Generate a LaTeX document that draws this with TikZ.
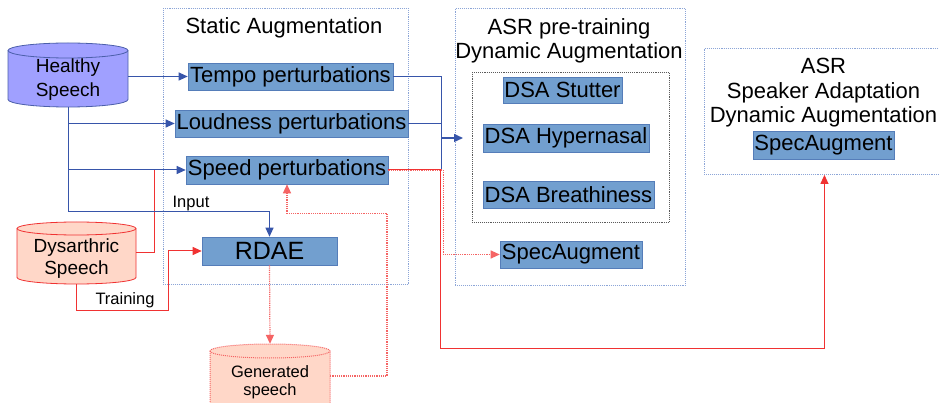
\documentclass[tikz,border=0pt]{standalone}
\usepackage{fontspec}
\setmainfont{Liberation Sans}
\usetikzlibrary{arrows.meta,calc}
\definecolor{boxfill}{RGB}{114,159,207}
\definecolor{boxline}{RGB}{85,125,185}
\definecolor{lineblue}{RGB}{55,85,170}
\definecolor{grpblue}{RGB}{140,165,215}
\definecolor{hfill}{RGB}{160,160,255}
\definecolor{hline}{RGB}{75,95,170}
\definecolor{redl}{RGB}{240,50,50}
\definecolor{dfill}{RGB}{255,215,200}
\definecolor{pinkdot}{RGB}{245,100,100}
\definecolor{innergray}{RGB}{90,90,90}
\begin{document}
\begin{tikzpicture}[x=1pt,y=-1pt,
  blk/.style={fill=boxfill,draw=boxline,line width=0.6pt,inner sep=0pt,font=\fontsize{22}{24}\selectfont},
  grp/.style={draw=grpblue,densely dotted,line width=0.9pt,inner sep=0pt,anchor=north west},
  ttl/.style={font=\fontsize{22}{24.5}\selectfont,align=center,inner sep=0pt},
  cyltxt/.style={font=\fontsize{19}{22}\selectfont,align=center,inner sep=0pt},
  frame/.style={inner sep=0pt,minimum width=#1},
  barr/.style={draw=lineblue,line width=1pt},
  tip/.style={-{Triangle[length=9pt,width=8pt]}},
  rline/.style={draw=redl,line width=1pt},
  rdot/.style={draw=pinkdot,densely dotted,line width=1.2pt},
  lbl/.style={font=\fontsize{16.5}{17.5}\selectfont,inner sep=0pt,align=center},
]
\fill[white] (0,0) rectangle (939,403);
\useasboundingbox (0,0) rectangle (939,403);

% group frames
\node[grp,minimum width=245pt,minimum height=276pt] (static) at (163,8) {};
\node[grp,minimum width=230pt,minimum height=277pt] (asrpre) at (455,8) {};
\node[grp,draw=innergray,minimum width=197pt,minimum height=150pt] (inner) at (472,72) {};
\node[grp,minimum width=240pt,minimum height=126pt] (asrspk) at (704,48) {};

% titles
\node[ttl] (stattl) at (284,28) {Static Augmentation};
\node[ttl] (pretl) at (569,41) {ASR pre-training\\Dynamic Augmentation};
\node[ttl] (spktl) at (823.5,93) {ASR\\Speaker Adaptation\\Dynamic Augmentation};

% blue boxes
\node[blk,minimum width=205pt,minimum height=27pt] (tempo) at (290.5,76.5) {Tempo perturbations};
\node[blk,minimum width=233pt,minimum height=27pt] (loud) at (291.5,123.5) {Loudness perturbations};
\node[blk,minimum width=202pt,minimum height=28pt] (speed) at (287,170) {Speed perturbations};
\node[blk,minimum width=135pt,minimum height=28pt,font=\fontsize{25}{27}\selectfont] (rdae) at (269.5,251) {RDAE};
\node[blk,minimum width=119pt,minimum height=26pt] (stutter) at (562.5,90) {DSA Stutter};
\node[blk,minimum width=166pt,minimum height=28pt] (hyper) at (566,138) {DSA Hypernasal};
\node[blk,minimum width=171pt,minimum height=27pt] (breath) at (568.5,194.5) {DSA Breathiness};
\node[blk,minimum width=142pt,minimum height=27pt] (spec1) at (571,254.5) {SpecAugment};
\node[blk,minimum width=141pt,minimum height=28pt] (spec2) at (823.5,145) {SpecAugment};

% Healthy Speech cylinder
\filldraw[fill=hfill,draw=hline,line width=0.8pt] (8,50.5) -- (8,99.5)
  arc[start angle=180,end angle=360,x radius=60pt,y radius=7.5pt] -- (128,50.5)
  arc[start angle=0,end angle=180,x radius=60pt,y radius=7.5pt] -- cycle;
\draw[draw=hline,line width=0.8pt] (8,50.5) arc[start angle=180,end angle=360,x radius=60pt,y radius=7.5pt];
\node[frame=120pt,minimum height=64pt] (healthy) at (68,75) {};
\node[cyltxt,font=\fontsize{19}{24}\selectfont] (healthytxt) at (68,80) {Healthy\\Speech};

% Dysarthric Speech cylinder
\filldraw[fill=dfill,draw=redl,line width=0.8pt] (17,228.5) -- (17,277.5)
  arc[start angle=180,end angle=360,x radius=59.5pt,y radius=6.5pt] -- (136,228.5)
  arc[start angle=0,end angle=180,x radius=59.5pt,y radius=6.5pt] -- cycle;
\draw[draw=redl,line width=0.8pt] (17,228.5) arc[start angle=180,end angle=360,x radius=59.5pt,y radius=6.5pt];
\node[frame=119pt,minimum height=62pt] (dys) at (76.5,253) {};
\node[cyltxt] (dystxt) at (76.5,258.5) {Dysarthric\\Speech};

% Generated speech cylinder
\filldraw[fill=dfill,draw=pinkdot,densely dotted,line width=1pt] (210,351) -- (210,420)
  arc[start angle=180,end angle=360,x radius=60pt,y radius=7pt] -- (330,351)
  arc[start angle=0,end angle=180,x radius=60pt,y radius=7pt] -- cycle;
\draw[draw=pinkdot,densely dotted,line width=1pt] (210,351) arc[start angle=180,end angle=360,x radius=60pt,y radius=7pt];
\node[frame=120pt,minimum height=74pt] (gen) at (270,381) {};
\node[lbl] (gentxt) at (270,382) {Generated\\speech};

% labels
\node[lbl] (inputlbl) at (191,204) {Input};
\node[lbl] (trainlbl) at (125,300) {Training};

% red: dysarthric to speed line
\draw[rline] (dys.east) -| ($(speed.west)+(-31,0)$);
% training
\draw[rline,tip] (dys.south) -- ++(0,26) -| ($(rdae.west)+(-33,0)$) -- (rdae.west);

% blue connectors from healthy speech
\draw[barr,tip] (healthy.east |- tempo.west) -- (tempo.west);
\draw[barr,tip] (healthy.south |- loud.west) -- (loud.west);
\draw[barr,tip] (healthy.south |- speed.west) -- (speed.west);
\draw[barr,tip] (healthy.south) |- ($(rdae.north)+(0,-25)$) -- (rdae.north);

% RDAE -> generated speech -> speed perturbations
\draw[rdot,tip] (rdae.south) -- (gen.north);
\draw[rdot,tip] ($(gen.east)+(0,-5)$) -| ($(speed.south)+(100,29)$) -| (speed.south);

% merge of static outputs
\coordinate (mx) at ($(tempo.east)+(48,0)$);
\coordinate (pre) at (463,138);
\draw[barr] (tempo.east) -| (mx |- speed.east);
\draw[barr] (loud.east) -- (mx |- loud.east);
\draw[barr,line width=1.4pt,tip] (mx |- pre) -- (pre);

% speed outputs
\draw[rdot,tip] (speed.east) -- ++(55,0) |- (spec1.west);
\draw[rline,tip] (speed.east) -| ($(speed.east)+(52,178)$) -| (asrspk.south);
\end{tikzpicture}
\end{document}
